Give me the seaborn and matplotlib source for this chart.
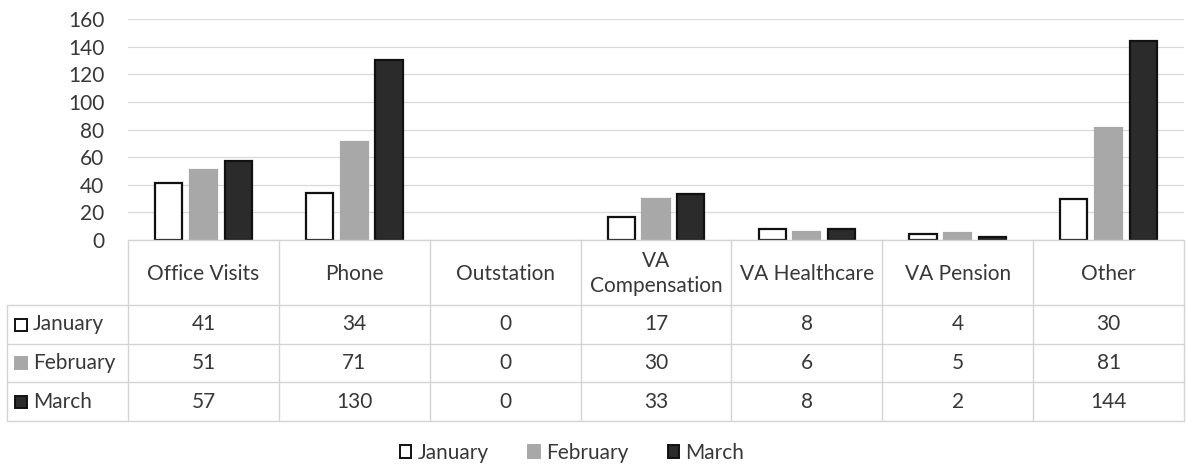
import numpy as np
import pandas as pd
import matplotlib
matplotlib.use("Agg")
import matplotlib.pyplot as plt
import seaborn as sns
from matplotlib.patches import Patch, Rectangle

# ---------------------------------------------------------
# data
# ---------------------------------------------------------
categories = ["Office Visits", "Phone", "Outstation", "VA\nCompensation",
              "VA Healthcare", "VA Pension", "Other"]
months = ["January", "February", "March"]
january = [41, 34, 0, 17, 8, 4, 30]
february = [51, 71, 0, 30, 6, 5, 81]
march = [57, 130, 0, 33, 8, 2, 144]

series = {"January": january, "February": february, "March": march}

df = pd.DataFrame({
    "Category": categories * len(months),
    "Month": np.repeat(months, len(categories)),
    "Count": january + february + march,
})

fills = {"January": "#ffffff", "February": "#a8a8a8", "March": "#2b2b2b"}
edges = {"January": "#111111", "February": "#a8a8a8", "March": "#111111"}
text_col = "#383838"
line_col = "#d4d4d4"
fs = 15

sns.set_theme(style="white")
plt.rcParams["font.family"] = ["Lato", "DejaVu Sans"]

# ---------------------------------------------------------
# layout (pixels)
# ---------------------------------------------------------
W, H = 1186, 466
left, right = 128, 1184
top, base = 19, 240
row_left = 7
row_y = [240, 305, 344, 382, 421]

fig = plt.figure(figsize=(W / 100, H / 100), dpi=100)

# ---------------------------------------------------------
# bar chart
# ---------------------------------------------------------
ax = fig.add_axes([left / W, 1 - base / H, (right - left) / W, (base - top) / H])
sns.barplot(data=df, x="Category", y="Count", hue="Month", palette=fills,
            width=0.69, gap=0.22, saturation=1, legend=False, ax=ax)

for cont, m in zip(ax.containers, months):
    for bar in cont:
        bar.set_edgecolor(edges[m])
        bar.set_linewidth(1.6 if bar.get_height() > 0 else 0)

ax.set_xlim(-0.5, len(categories) - 0.5)
ax.set_ylim(0, 160)
ax.set_yticks(range(0, 161, 20))
ax.set_xticks([])
ax.set_xlabel("")
ax.set_ylabel("")
ax.yaxis.grid(True, color="#d9d9d9", linewidth=0.9)
ax.set_axisbelow(True)
for s in ax.spines.values():
    s.set_visible(False)
ax.tick_params(axis="y", labelsize=fs, labelcolor=text_col, length=0, pad=17)

# ---------------------------------------------------------
# data table
# ---------------------------------------------------------
tax = fig.add_axes([0, 0, 1, 1])
tax.set_xlim(0, W)
tax.set_ylim(H, 0)
tax.axis("off")

ncol = len(categories)
colw = (right - left) / ncol
col_x = [left + i * colw for i in range(ncol + 1)]

tax.plot([left, right], [row_y[0], row_y[0]], color=line_col, lw=1)
for y in row_y[1:]:
    tax.plot([row_left, right], [y, y], color=line_col, lw=1)
for x in col_x:
    tax.plot([x, x], [row_y[0], row_y[-1]], color=line_col, lw=1)
tax.plot([row_left, row_left], [row_y[1], row_y[-1]], color=line_col, lw=1)

for i, cat in enumerate(categories):
    cx = col_x[i] + colw / 2
    tax.text(cx, (row_y[0] + row_y[1]) / 2 + 1, cat, ha="center", va="center",
             fontsize=fs, color=text_col, linespacing=1.3)
    for r, m in enumerate(months):
        cy = (row_y[r + 1] + row_y[r + 2]) / 2
        tax.text(cx, cy, str(series[m][i]), ha="center", va="center",
                 fontsize=fs, color=text_col)

for r, m in enumerate(months):
    cy = (row_y[r + 1] + row_y[r + 2]) / 2
    tax.add_patch(Rectangle((15, cy - 6), 12, 12, facecolor=fills[m],
                            edgecolor=edges[m], lw=1.4))
    tax.text(33, cy, m, ha="left", va="center", fontsize=fs, color=text_col)

# ---------------------------------------------------------
# legend
# ---------------------------------------------------------
handles = [Patch(facecolor=fills[m], edgecolor=edges[m], lw=1.4) for m in months]
leg = fig.legend(handles, months, loc="center", bbox_to_anchor=(572 / W, 1 - 453 / H),
                 ncol=3, frameon=False, fontsize=fs, handlelength=0.55,
                 handleheight=0.55, handletextpad=0.3, columnspacing=1.9)
for t in leg.get_texts():
    t.set_color(text_col)

fig.savefig("out.png", dpi=100)
